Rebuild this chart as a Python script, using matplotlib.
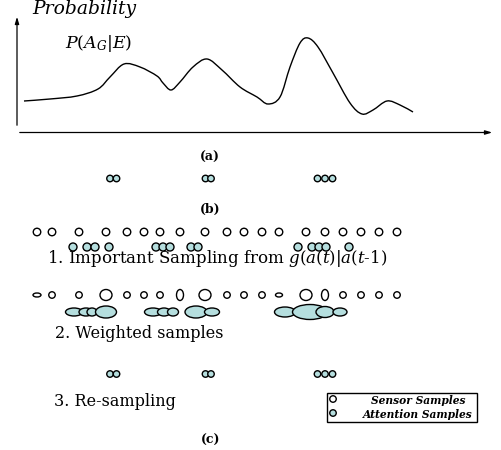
import matplotlib
matplotlib.use("Agg")
import matplotlib.pyplot as plt
from matplotlib.patches import Ellipse, Rectangle, PathPatch
from matplotlib.path import Path

plt.rcParams["font.family"] = "DejaVu Serif"
plt.rcParams["mathtext.fontset"] = "custom"
plt.rcParams["mathtext.rm"] = "DejaVu Serif"
plt.rcParams["mathtext.it"] = "DejaVu Serif:italic"

# (a) probability curve (pixel coords, y down)
curve_x = [24, 50, 77, 98, 110, 124, 140, 157, 163, 171, 180, 193, 207, 222, 240,
           257, 268, 280, 290, 300, 308, 318, 333, 350, 362, 373, 387, 400, 413]
curve_y = [101, 99, 96, 89, 77, 64, 67, 76, 83, 90, 82, 67, 59, 70, 87,
           97, 104, 97, 67, 43, 38, 47, 73, 103, 114, 110, 101, 105, 112]

# (b) / step 3: resampled attention samples
resample_x = [110, 116.5, 205.5, 211, 317.5, 325, 332.5]

# step 1: sensor samples and attention samples
sensor_x = [37, 52, 79, 106, 127, 144, 160, 180, 205, 227, 244, 262, 279, 306,
            325, 343, 361, 379, 397]
attention_x = [73, 87, 95, 109, 156, 163, 170, 191, 198, 298, 312, 319, 326, 349]

# step 2: weights shown as ellipse size (width, height)
sensor_w = [8, 6.5, 6.5, 12, 6.5, 6.5, 6.5, 7, 12, 6.5, 6.5, 6.5, 7, 12, 7, 6.5, 6.5, 6.5, 6.5]
sensor_h = [4, 6.5, 6.5, 11, 6.5, 6.5, 6.5, 11, 11, 6.5, 6.5, 6.5, 4, 11, 11, 6.5, 6.5, 6.5, 6.5]
weighted_x = [74, 86, 92, 106, 153, 164, 173, 196, 212, 285, 310, 325, 340]
weighted_w = [17, 14, 10, 21, 17, 13, 11, 22, 15, 21, 35, 18, 14]
weighted_h = [8, 8, 8, 12, 8, 8, 8, 12, 8, 10, 15, 11, 8]

legend_labels = ["Sensor Samples", "Attention Samples"]
att_color = "#b5dede"

fig = plt.figure(figsize=(5.01, 4.5), dpi=100)
ax = fig.add_axes([0, 0, 1, 1])
ax.set_xlim(0, 501)
ax.set_ylim(450, 0)
ax.axis("off")

# axes of panel (a)
ax.annotate("", xy=(17, 14), xytext=(17, 128),
            arrowprops=dict(arrowstyle="-|>,head_length=0.4,head_width=0.12", color="black", lw=0.9))
ax.annotate("", xy=(495, 132.5), xytext=(17, 132.5),
            arrowprops=dict(arrowstyle="-|>,head_length=0.4,head_width=0.12", color="black", lw=0.9))

# smooth curve through the read points (Catmull-Rom drawn as cubic Bezier)
pts = list(zip(curve_x, curve_y))
verts = [pts[0]]
codes = [Path.MOVETO]
for i in range(len(pts) - 1):
    p0 = pts[max(i - 1, 0)]
    p1 = pts[i]
    p2 = pts[i + 1]
    p3 = pts[min(i + 2, len(pts) - 1)]
    c1 = (p1[0] + (p2[0] - p0[0]) / 6, p1[1] + (p2[1] - p0[1]) / 6)
    c2 = (p2[0] - (p3[0] - p1[0]) / 6, p2[1] - (p3[1] - p1[1]) / 6)
    verts += [c1, c2, p2]
    codes += [Path.CURVE4] * 3
ax.add_patch(PathPatch(Path(verts, codes), fill=False, edgecolor="black", lw=1.0))

ax.text(32, 9, "Probability", fontsize=13.5, style="italic", va="center", ha="left")
ax.text(65, 43, r"$P(A_G|E)$", fontsize=12.5, va="center", ha="left")
ax.text(210, 157, "(a)", fontsize=9, weight="bold", ha="center", va="center")


def circle_row(xs, y, w, h, face):
    ws = w if isinstance(w, list) else [w] * len(xs)
    hs = h if isinstance(h, list) else [h] * len(xs)
    for x, ww, hh in zip(xs, ws, hs):
        ax.add_patch(Ellipse((x, y), ww, hh, facecolor=face, edgecolor="black", lw=1.0))


circle_row(resample_x, 178.5, 6.5, 6.5, att_color)
ax.text(210, 209, "(b)", fontsize=9, weight="bold", ha="center", va="center")

circle_row(sensor_x, 232, 7.5, 7.5, "white")
circle_row(attention_x, 247, 8, 8, att_color)
ax.text(47, 258.5, "1. Important Sampling from $g(a(t)|a(t$-$1)$", fontsize=12,
        ha="left", va="center")

circle_row(sensor_x, 295, sensor_w, sensor_h, "white")
circle_row(weighted_x, 312, weighted_w, weighted_h, att_color)
ax.text(55, 333, "2. Weighted samples", fontsize=11.5, ha="left", va="center")

circle_row(resample_x, 374, 6.5, 6.5, att_color)
ax.text(54, 401.5, "3. Re-sampling", fontsize=11.5, ha="left", va="center")
ax.text(211, 440.5, "(c)", fontsize=9, weight="bold", ha="center", va="center")

# legend box
ax.add_patch(Rectangle((327, 393), 150, 29, facecolor="white", edgecolor="black", lw=1.0))
for i, (lab, face) in enumerate(zip(legend_labels, ["white", att_color])):
    yy = 400 + i * 14
    ax.add_patch(Ellipse((333, yy - 1), 6.5, 6.5, facecolor=face, edgecolor="black", lw=1.0))
    ax.text(418, yy, lab, fontsize=7.7, style="italic", weight="bold", ha="center", va="center")

fig.savefig("out.png", dpi=100)
